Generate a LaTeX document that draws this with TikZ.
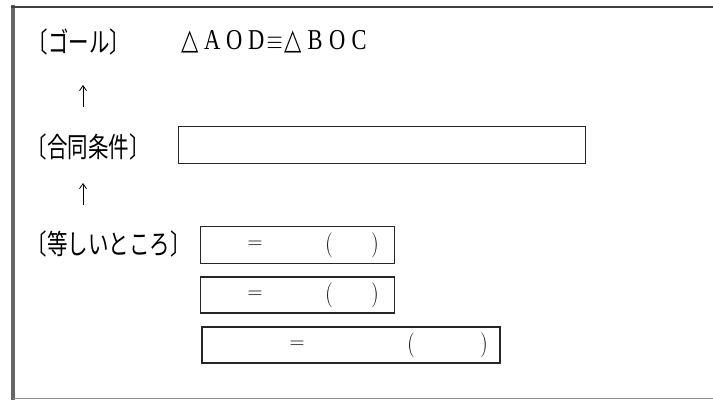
\documentclass[tikz,border=0pt]{standalone}
\usepackage{graphicx}
\usepackage{fontspec}
\setmainfont{Liberation Serif}
\newfontfamily\jp[RawFeature=+halt]{Noto Sans CJK JP}
\newfontfamily\symf{DejaVu Sans}
\usetikzlibrary{arrows.meta}
% fixed-width cell for the spaced-out congruence statement
\newcommand\cellchar[2][22pt]{\makebox[#1]{#2}}
% tall, narrow lettering
\newcommand\tallset[2][1.35]{\scalebox{1}[#1]{#2}}
\begin{document}
\begin{tikzpicture}[x=1pt,y=-1pt,
  lbl/.style={inner sep=0pt, anchor=west, font=\jp\fontsize{20.5}{24}\selectfont},
  answerbox/.style={draw=black!85, line width=1.3pt, inner sep=0pt},
  glyph/.style={inner sep=0pt, font=\fontsize{21}{24}\selectfont},
  uparrow/.style={line width=0.8pt, -{Straight Barb[length=5pt,width=7pt]}}]
\useasboundingbox (0,0) rectangle (713,401);

% worksheet frame (left, top and bottom rules)
\draw[line width=4pt, black!60] (13,5) -- (13,399.5);
\draw[line width=2pt, black!75] (11,7) -- (713,7);
\draw[line width=1.3pt, black!45] (13,398.5) -- (713,398.5);

% goal line
\node[lbl] (goal) at (38,42) {\tallset{〔ゴール〕}};
\node[inner sep=0pt, anchor=west, font=\fontsize{22.5}{26}\selectfont] (stmt) at (179,42)
  {\tallset[1.28]{\cellchar{\symf △}\cellchar{A}\cellchar{O}\cellchar{D}\cellchar[15pt]{$\equiv$}\cellchar{\symf △}\cellchar{B}\cellchar{O}\cellchar{C}}};

% arrow from the condition up to the goal
\coordinate (a1s) at (83,107);
\coordinate (a1e) at (83,85);
\draw[uparrow] (a1s) -- (a1e);

% congruence condition
\node[lbl] (cond) at (37,147) {\tallset{〔合同条件〕}};
\node[answerbox, minimum width=407pt, minimum height=37pt] (condbox) at (382,145) {};

% arrow from the equal parts up to the condition
\coordinate (a2s) at (83,205);
\coordinate (a2e) at (83,183);
\draw[uparrow] (a2s) -- (a2e);

% equal parts
\node[lbl] (eq) at (37,244) {\tallset{〔等しいところ〕}};
\node[answerbox, minimum width=194pt, minimum height=37pt] (box1) at (297.5,245) {};
\node[answerbox, minimum width=194pt, minimum height=36pt] (box2) at (297.5,295) {};
\node[answerbox, minimum width=298pt, minimum height=36pt] (box3) at (351,345) {};

\node[glyph] (e1) at (255,245) {$=$};
\node[glyph] (l1) at (329,245) {\tallset[1.2]{$($}};
\node[glyph] (r1) at (375,245) {\tallset[1.2]{$)$}};
\node[glyph] (e2) at (255,295) {$=$};
\node[glyph] (l2) at (329,295) {\tallset[1.2]{$($}};
\node[glyph] (r2) at (375,295) {\tallset[1.2]{$)$}};
\node[glyph] (e3) at (297,345) {$=$};
\node[glyph] (l3) at (411,345) {\tallset[1.2]{$($}};
\node[glyph] (r3) at (484,345) {\tallset[1.2]{$)$}};
\end{tikzpicture}
\end{document}
